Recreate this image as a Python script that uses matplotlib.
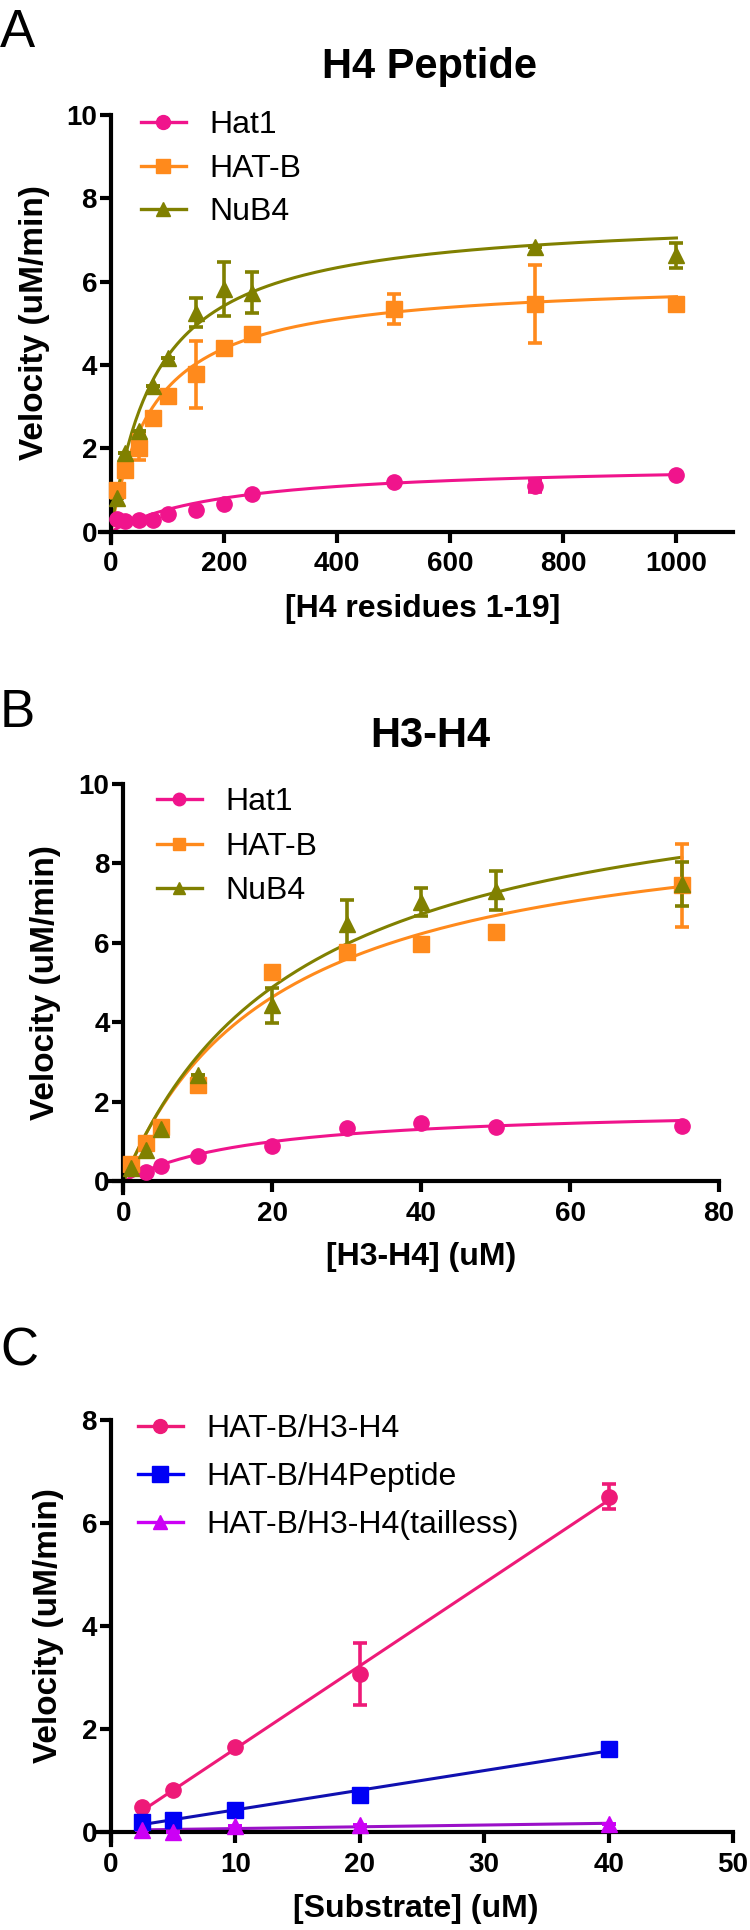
import numpy as np
import matplotlib
matplotlib.use("Agg")
import matplotlib.pyplot as plt
from matplotlib.lines import Line2D

plt.rcParams["font.family"] = ["Liberation Sans", "DejaVu Sans"]

PINK = "#F0148C"
ORANGE = "#FF8A1C"
OLIVE = "#808000"
C_PINK = "#EE1A78"
BLUE = "#0000F5"
BLUE_LINE = "#1010B0"
VIOLET = "#CC00F5"
VIOLET_LINE = "#9A10C8"

W, H = 750, 1930

# ---- panel A: H4 peptide ----
a_names = ["Hat1", "HAT-B", "NuB4"]
a_hat1_x = [10, 25, 50, 75, 100, 150, 200, 250, 500, 750, 1000]
a_hat1_y = [0.30, 0.25, 0.28, 0.28, 0.42, 0.53, 0.67, 0.91, 1.19, 1.10, 1.37]
a_hat1_err = [0, 0, 0, 0, 0, 0, 0, 0, 0, 0.15, 0]
a_hatb_x = [10, 25, 50, 75, 100, 150, 200, 250, 500, 750, 1000]
a_hatb_y = [0.99, 1.47, 2.02, 2.74, 3.25, 3.78, 4.42, 4.74, 5.34, 5.46, 5.46]
a_hatb_err = [0, 0, 0.3, 0, 0, 0.8, 0, 0, 0.36, 0.93, 0]
a_nub4_x = [10, 25, 50, 75, 100, 150, 200, 250, 750, 1000]
a_nub4_y = [0.8, 1.9, 2.42, 3.5, 4.18, 5.26, 5.82, 5.74, 6.83, 6.63]
a_nub4_err = [0, 0, 0, 0, 0, 0.35, 0.65, 0.5, 0, 0.3]
# Michaelis-Menten fit constants
a_vmax = [1.66, 6.07, 7.62]
a_km = [211, 76, 81]

# ---- panel B: H3-H4 ----
b_hat1_x = [3, 5, 10, 20, 30, 40, 50, 75]
b_hat1_y = [0.25, 0.40, 0.65, 0.88, 1.35, 1.48, 1.36, 1.40]
b_hat1_err = [0, 0, 0, 0, 0, 0, 0, 0]
b_hatb_x = [1, 3, 5, 10, 20, 30, 40, 50, 75]
b_hatb_y = [0.45, 0.96, 1.37, 2.42, 5.27, 5.77, 5.98, 6.27, 7.45]
b_hatb_err = [0, 0, 0, 0, 0, 0, 0, 0, 1.05]
b_nub4_x = [1, 3, 5, 10, 20, 30, 40, 50, 75]
b_nub4_y = [0.35, 0.79, 1.33, 2.67, 4.43, 6.48, 7.03, 7.32, 7.49]
b_nub4_err = [0, 0, 0, 0, 0.45, 0.6, 0.35, 0.5, 0.55]
b_vmax = [1.9, 9.49, 10.78]
b_km = [17.9, 20.9, 24.1]

# ---- panel C: substrate comparison ----
c_names = ["HAT-B/H3-H4", "HAT-B/H4Peptide", "HAT-B/H3-H4(tailless)"]
c_x = [2.5, 5, 10, 20, 40]
c_h3h4_y = [0.48, 0.81, 1.65, 3.07, 6.51]
c_h3h4_err = [0, 0, 0, 0.6, 0.24]
c_pep_y = [0.20, 0.24, 0.43, 0.72, 1.62]
c_pep_err = [0, 0, 0, 0, 0]
c_tail_y = [0.04, 0.0, 0.11, 0.14, 0.15]
c_tail_err = [0, 0, 0, 0, 0]


def px_axes(left, right, top, bottom):
    return fig.add_axes([left / W, 1 - bottom / H, (right - left) / W, (bottom - top) / H])


def style(ax, xlim, ylim, xticks, yticks):
    ax.set_xlim(xlim)
    ax.set_ylim(ylim)
    ax.spines["top"].set_visible(False)
    ax.spines["right"].set_visible(False)
    ax.spines["left"].set_position(("data", 0))
    ax.spines["bottom"].set_position(("data", 0))
    ax.spines["left"].set_linewidth(3.0)
    ax.spines["bottom"].set_linewidth(3.0)
    ax.set_xticks(xticks)
    ax.set_yticks(yticks)
    ax.tick_params(width=3.0, length=8, labelsize=20)
    ax.tick_params(axis="x", pad=6)
    ax.tick_params(axis="y", pad=2)
    for lab in ax.get_xticklabels() + ax.get_yticklabels():
        lab.set_fontweight("bold")


def series(ax, x, y, err, color, marker, ms, fit_x=None, fit_y=None, line_color=None):
    if fit_x is not None:
        ax.plot(fit_x, fit_y, color=line_color or color, lw=2.2, zorder=2)
    ax.errorbar(x, y, yerr=err, fmt=marker, color=color, ms=ms, elinewidth=2.6,
                capsize=5, capthick=2.6, zorder=3, clip_on=False)


def legend(ax, handles, labels, x, y, spacing):
    ax.legend(handles, labels, loc="upper left", bbox_to_anchor=(x / W, 1 - y / H),
              bbox_transform=fig.transFigure, frameon=False, fontsize=23,
              handlelength=1.4, handletextpad=0.75, labelspacing=spacing,
              borderpad=0, borderaxespad=0)


def labels(ax, xlabel, xl_pos, yl_pos):
    ax.set_xlabel(xlabel, fontsize=23, fontweight="bold")
    ax.xaxis.set_label_coords(xl_pos[0] / W, 1 - xl_pos[1] / H, transform=fig.transFigure)
    ax.set_ylabel("Velocity (uM/min)", fontsize=24, fontweight="bold")
    ax.yaxis.set_label_coords(yl_pos[0] / W, 1 - yl_pos[1] / H, transform=fig.transFigure)


def mm(vmax, km, xmax):
    xs = np.linspace(0, xmax, 300)
    return xs, vmax * xs / (km + xs)


fig = plt.figure(figsize=(W / 100, H / 100), dpi=100)

# panel A
axA = px_axes(100, 733, 115, 543)
style(axA, (-19.4, 1100), (-0.27, 10), range(0, 1001, 200), range(0, 11, 2))
a_sets = [(a_hat1_x, a_hat1_y, a_hat1_err, PINK, "o", 11),
          (a_hatb_x, a_hatb_y, a_hatb_err, ORANGE, "s", 11),
          (a_nub4_x, a_nub4_y, a_nub4_err, OLIVE, "^", 11)]
handles = []
for (x, y, e, c, m, s), vm, km in zip(a_sets, a_vmax, a_km):
    fx, fy = mm(vm, km, 1000)
    series(axA, x, y, e, c, m, s, fx, fy)
    handles.append(Line2D([], [], color=c, marker=m, ms=s - 1, lw=2.4))
legend(axA, handles, a_names, 141, 110, 0.43)
fig.text(430 / W, 1 - 67 / H, "H4 Peptide", fontsize=30, fontweight="bold", ha="center", va="center")
labels(axA, "[H4 residues 1-19]", (423, 594), (50, 323))

# panel B
axB = px_axes(109, 719, 784, 1193)
style(axB, (-1.94, 80), (-0.29, 10), range(0, 81, 20), range(0, 11, 2))
b_sets = [(b_hat1_x, b_hat1_y, b_hat1_err, PINK, "o", 11),
          (b_hatb_x, b_hatb_y, b_hatb_err, ORANGE, "s", 11),
          (b_nub4_x, b_nub4_y, b_nub4_err, OLIVE, "^", 11)]
handles = []
for (x, y, e, c, m, s), vm, km in zip(b_sets, b_vmax, b_km):
    fx, fy = mm(vm, km, 75)
    series(axB, x, y, e, c, m, s, fx, fy)
    handles.append(Line2D([], [], color=c, marker=m, ms=s - 2, lw=2.4))
legend(axB, handles, a_names, 157, 787, 0.46)
fig.text(430 / W, 1 - 736 / H, "H3-H4", fontsize=30, fontweight="bold", ha="center", va="center")
labels(axB, "[H3-H4] (uM)", (421, 1242), (61, 983))

# panel C
axC = px_axes(98, 733, 1420, 1845)
style(axC, (-1.045, 50), (-0.25, 8), range(0, 51, 10), range(0, 9, 2))
c_sets = [(c_h3h4_y, c_h3h4_err, C_PINK, C_PINK, "o", 11),
          (c_pep_y, c_pep_err, BLUE, BLUE_LINE, "s", 12),
          (c_tail_y, c_tail_err, VIOLET, VIOLET_LINE, "^", 11)]
handles = []
for y, e, c, lc, m, s in c_sets:
    slope, icpt = np.polyfit(c_x, y, 1)
    fx = np.array([min(c_x), max(c_x)])
    series(axC, c_x, y, e, c, m, s, fx, slope * fx + icpt, lc)
    handles.append(Line2D([], [], color=c, marker=m, ms=s - 1, lw=2.4))
legend(axC, handles, c_names, 138, 1414, 0.56)
labels(axC, "[Substrate] (uM)", (416, 1894), (64, 1626))

# panel letters
for letter, top in [("A", 8), ("B", 688), ("C", 1326)]:
    fig.text(0 / W, 1 - top / H, letter, fontsize=38, ha="left", va="top")

fig.savefig("out.png", dpi=100)
